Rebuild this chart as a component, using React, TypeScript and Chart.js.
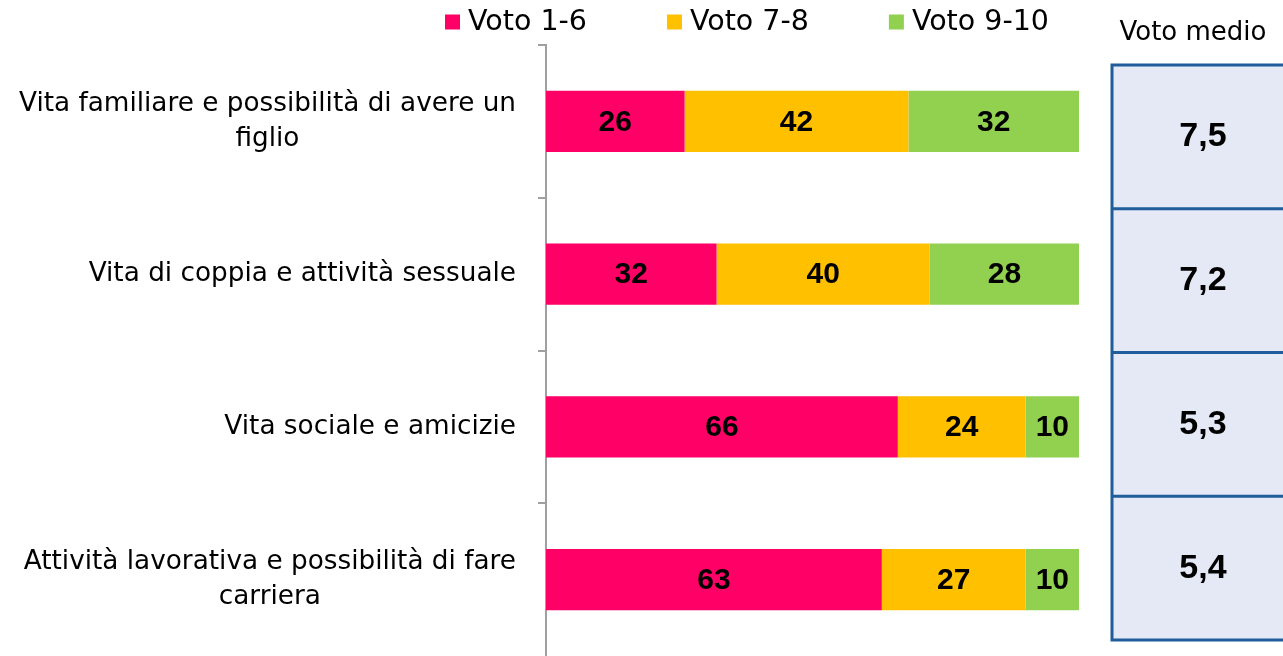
import { useEffect, useRef } from "react";
import { Chart, registerables } from "chart.js";

Chart.register(...registerables);

const categories: string[][] = [
  ["Vita familiare e possibilità di avere un", "figlio"],
  ["Vita di coppia e attività sessuale"],
  ["Vita sociale e amicizie"],
  ["Attività lavorativa e possibilità di fare", "carriera"],
];
const seriesLabels = ["Voto 1-6", "Voto 7-8", "Voto 9-10"];
const voto16 = [26, 32, 66, 63];
const voto78 = [42, 40, 24, 27];
const voto910 = [32, 28, 10, 10];
const votoMedio = [7.5, 7.2, 5.3, 5.4];
const tableTitle = "Voto medio";

const colors = ["#FF0066", "#FFC000", "#92D050"];
const FONT = "'DejaVu Sans', sans-serif";

const categoryLabelsPlugin = {
  id: "categoryLabels",
  afterDraw(chart: any) {
    const ctx = chart.ctx;
    const scale = chart.scales.y;
    ctx.save();
    ctx.font = `26.3px ${FONT}`;
    ctx.fillStyle = "#000";
    ctx.textBaseline = "middle";
    ctx.textAlign = "center";
    const lineH = 35;
    categories.forEach((lines, i) => {
      const yc = scale.getPixelForValue(i);
      const widest = Math.max(...lines.map((l) => ctx.measureText(l).width));
      const right = 516;
      lines.forEach((line, j) => {
        const y = yc + (j - (lines.length - 1) / 2) * lineH;
        ctx.fillText(line, right - widest / 2, y);
      });
    });
    ctx.restore();
  },
};

const valueLabelsPlugin = {
  id: "valueLabels",
  afterDatasetsDraw(chart: any) {
    const ctx = chart.ctx;
    ctx.save();
    ctx.font = `bold 30px 'Liberation Sans', Arial, sans-serif`;
    ctx.fillStyle = "#000";
    ctx.textAlign = "center";
    ctx.textBaseline = "middle";
    chart.data.datasets.forEach((ds: any, di: number) => {
      const meta = chart.getDatasetMeta(di);
      meta.data.forEach((el: any, i: number) => {
        const x = (el.x + el.base) / 2;
        ctx.fillText(String(ds.data[i]), x, el.y + 1);
      });
    });
    ctx.restore();
  },
};

const legendPlugin = {
  id: "customLegend",
  afterDraw(chart: any) {
    const ctx = chart.ctx;
    ctx.save();
    ctx.font = `28.5px ${FONT}`;
    ctx.textBaseline = "middle";
    ctx.textAlign = "left";
    const box = 15;
    const gap = 8;
    const spacing = 80;
    let x = 445;
    const yc = 22;
    chart.data.datasets.forEach((ds: any) => {
      const tw = ctx.measureText(ds.label).width;
      ctx.fillStyle = ds.backgroundColor;
      ctx.fillRect(x, yc - box / 2, box, box);
      ctx.fillStyle = "#000";
      ctx.fillText(ds.label, x + box + gap, yc + 1);
      x += box + gap + tw + spacing;
    });
    ctx.restore();
  },
};

const tablePlugin = {
  id: "avgTable",
  afterDraw(chart: any) {
    const ctx = chart.ctx;
    ctx.save();
    const x0 = 1112;
    const x1 = 1295;
    const y0 = 65;
    const y1 = 640;
    const rowH = (y1 - y0) / votoMedio.length;
    ctx.fillStyle = "#E4E9F5";
    ctx.fillRect(x0, y0, x1 - x0, y1 - y0);
    ctx.strokeStyle = "#215C9B";
    ctx.lineWidth = 3;
    ctx.strokeRect(x0, y0, x1 - x0, y1 - y0);
    for (let i = 1; i < votoMedio.length; i++) {
      ctx.beginPath();
      ctx.moveTo(x0, y0 + rowH * i);
      ctx.lineTo(x1, y0 + rowH * i);
      ctx.stroke();
    }
    ctx.fillStyle = "#000";
    ctx.textAlign = "center";
    ctx.textBaseline = "middle";
    ctx.font = `bold 34px 'Liberation Sans', Arial, sans-serif`;
    votoMedio.forEach((v, i) => {
      ctx.fillText(v.toFixed(1).replace(".", ","), 1203, y0 + rowH * (i + 0.5));
    });
    ctx.font = `26px ${FONT}`;
    ctx.fillText(tableTitle, 1193, 33);
    ctx.restore();
  },
};

export default function App() {
  const ref = useRef<HTMLCanvasElement>(null);
  useEffect(() => {
    document.body.style.margin = "0";
    const chart = new Chart(ref.current as HTMLCanvasElement, {
      type: "bar",
      data: {
        labels: categories.map((c) => c.join(" ")),
        datasets: [voto16, voto78, voto910].map((d, i) => ({
          label: seriesLabels[i],
          data: d,
          backgroundColor: colors[i],
          borderWidth: 0,
          categoryPercentage: 1,
          barPercentage: 0.4,
        })),
      },
      options: {
        indexAxis: "y",
        responsive: false,
        animation: false,
        layout: { padding: { top: 45, right: 204, bottom: 0, left: 0 } },
        plugins: { legend: { display: false }, tooltip: { enabled: false } },
        scales: {
          x: { stacked: true, min: 0, max: 100, display: false },
          y: {
            stacked: true,
            ticks: { display: false },
            grid: {
              display: true,
              drawOnChartArea: false,
              drawTicks: true,
              tickLength: 8,
              color: (c: any) => (c.tick ? "#A0A0A0" : "rgba(0,0,0,0)"),
              lineWidth: 2,
              offset: true,
            },
            border: { display: true, color: "#A0A0A0", width: 2 },
            afterFit: (s: any) => {
              s.width = 546;
            },
          },
        },
      },
      plugins: [categoryLabelsPlugin, valueLabelsPlugin, legendPlugin, tablePlugin],
    });
    return () => chart.destroy();
  }, []);
  return (
    <div style={{ position: "absolute", left: 0, top: 0, width: 1283, height: 656 }}>
      <canvas ref={ref} width={1283} height={656} />
    </div>
  );
}
